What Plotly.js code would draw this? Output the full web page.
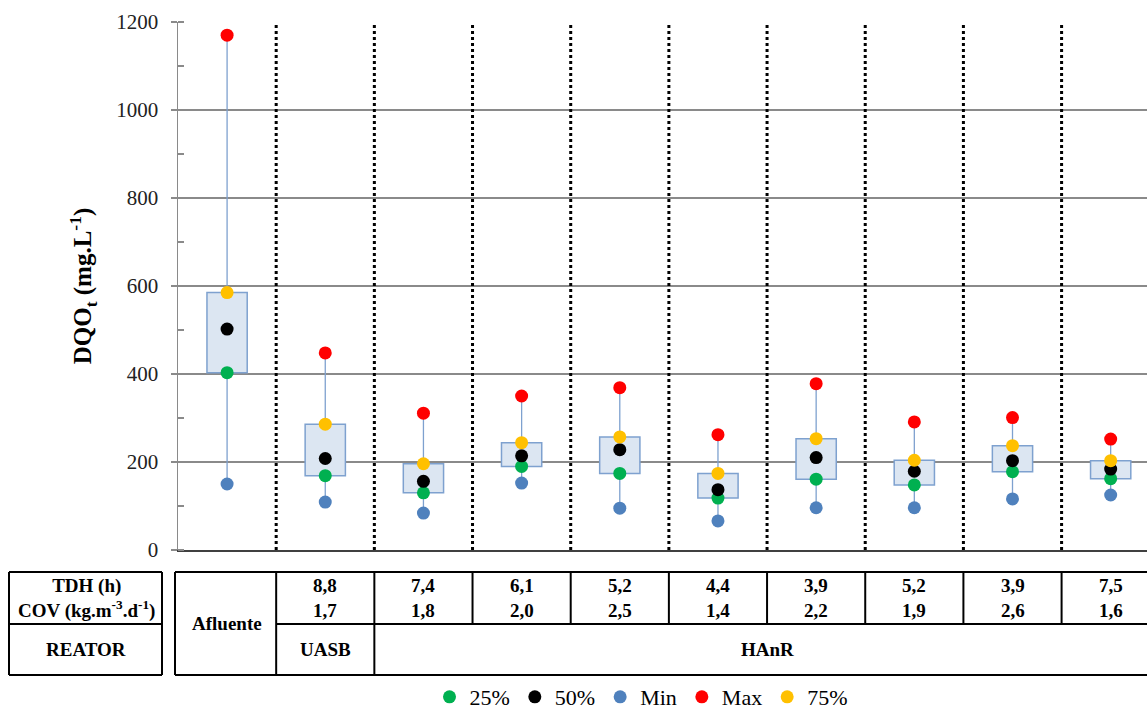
<!DOCTYPE html>
<html>
<head>
<meta charset="utf-8">
<script src="https://cdn.plot.ly/plotly-3.0.1.min.js"></script>
<style>
  html, body { margin: 0; padding: 0; background: #fff; overflow: hidden; }
  #chart { width: 1147px; height: 709px; }
</style>
</head>
<body>
<div id="chart"></div>
<script>
// Total COD (DQOt) per sampling condition: influent, UASB and HAnR runs
const samples = ['Afluente', 'UASB', 'HAnR', 'HAnR', 'HAnR', 'HAnR', 'HAnR', 'HAnR', 'HAnR', 'HAnR'];
const tdh = ['', '8,8', '7,4', '6,1', '5,2', '4,4', '3,9', '5,2', '3,9', '7,5'];
const cov = ['', '1,7', '1,8', '2,0', '2,5', '1,4', '2,2', '1,9', '2,6', '1,6'];

const p25  = [403, 169, 130, 190, 174, 118, 161, 148, 178, 162];
const p50  = [502, 208, 156, 214, 228, 137, 210, 179, 203, 184];
const vMin = [150, 109,  84, 152,  95,  66,  96,  96, 116, 125];
const vMax = [1170, 448, 311, 350, 369, 262, 378, 291, 301, 252];
const p75  = [585, 286, 196, 244, 257, 174, 253, 204, 237, 203];

const yTicks = [0, 200, 400, 600, 800, 1000, 1200];

const xs = samples.map((_, i) => i);
const serif = "'Liberation Serif', 'Times New Roman', Times, serif";

// plot area geometry (px) used to place the table under the axis
const W = 1147, H = 709;
const plotL = 178, plotT = 22, plotW = 969, plotH = 528;
const xMin = -0.5, xMax = 9.37;
const pxX = px => (px - plotL) / plotW;
const pxY = py => (plotT + plotH - py) / plotH;
const dX = x => (x - xMin) / (xMax - xMin);

// whiskers: from 75% up to max and from 25% down to min
const wx = [], wy = [];
xs.forEach(i => {
  wx.push(i, i, null, i, i, null);
  wy.push(p75[i], vMax[i], null, vMin[i], p25[i], null);
});

const traces = [
  {
    type: 'bar', x: xs, base: p25, y: p75.map((v, i) => v - p25[i]),
    width: 0.41, showlegend: false, hoverinfo: 'skip',
    marker: { color: '#dce6f2', line: { color: '#7ea1cf', width: 1.5 } }
  },
  {
    type: 'scatter', mode: 'lines', x: wx, y: wy, showlegend: false,
    hoverinfo: 'skip', line: { color: '#7ea1cf', width: 1.3 }
  },
  { type: 'scatter', mode: 'markers', name: '25%', x: xs, y: p25,
    marker: { color: '#00b050', size: 13 } },
  { type: 'scatter', mode: 'markers', name: '50%', x: xs, y: p50,
    marker: { color: '#000000', size: 13 } },
  { type: 'scatter', mode: 'markers', name: 'Min', x: xs, y: vMin,
    marker: { color: '#4f81bd', size: 13 } },
  { type: 'scatter', mode: 'markers', name: 'Max', x: xs, y: vMax,
    marker: { color: '#ff0000', size: 13 } },
  { type: 'scatter', mode: 'markers', name: '75%', x: xs, y: p75,
    marker: { color: '#ffc000', size: 13 } }
];

const shapes = [];
// dotted separators between sampling conditions
for (let i = 0; i < samples.length - 1; i++) {
  shapes.push({ type: 'line', xref: 'x', yref: 'y', x0: i + 0.5, x1: i + 0.5, y0: 0, y1: 1200,
    line: { color: '#000', width: 3, dash: 'dot' } });
}

// table under the chart
const rowTop = 572, rowMid = 624, rowBot = 675;
const tblLine = { color: '#000', width: 2 };
const hline = (x0, x1, py) => shapes.push({ type: 'line', xref: 'paper', yref: 'paper',
  x0: x0, x1: x1, y0: pxY(py), y1: pxY(py), line: tblLine });
const vline = (x, py0, py1) => shapes.push({ type: 'line', xref: 'paper', yref: 'paper',
  x0: x, x1: x, y0: pxY(py0), y1: pxY(py1), line: tblLine });

// header block on the left
const hL = pxX(9), hR = pxX(162);
hline(hL, hR, rowTop); hline(hL, hR, rowMid); hline(hL, hR, rowBot);
vline(hL, rowTop, rowBot); vline(hR, rowTop, rowBot);

// main block
const tL = pxX(175), tR = 1.05;
hline(tL, tR, rowTop); hline(tL, tR, rowBot);
hline(dX(0.5), tR, rowMid);
vline(tL, rowTop, rowBot);
vline(dX(0.5), rowTop, rowBot);
vline(dX(1.5), rowTop, rowBot);
for (let i = 2; i < samples.length - 1; i++) vline(dX(i + 0.5), rowTop, rowMid);

const cellFont = { family: serif, size: 19, color: '#000' };
const ann = [];
const rowY1 = pxY((rowTop + rowMid) / 2), rowY2 = pxY((rowMid + rowBot) / 2);
const midY = pxY((rowTop + rowBot) / 2);
const cell = (xref, x, y, text) => ann.push({ xref: xref, yref: 'paper', x: x, y: y,
  xanchor: 'center', yanchor: 'middle', showarrow: false, text: text, font: cellFont });

cell('paper', pxX(86), rowY1, '<b>TDH (h)<br>COV (kg.m<sup>-3</sup>.d<sup>-1</sup>)</b>');
cell('paper', pxX(86), rowY2, '<b>REATOR</b>');

xs.forEach(i => {
  if (tdh[i]) cell('x', i, rowY1, '<b>' + tdh[i] + '<br>' + cov[i] + '</b>');
});
// reactor row: influent spans both rows, HAnR spans its runs
cell('x', 0, midY, '<b>' + samples[0] + '</b>');
cell('x', 1, rowY2, '<b>' + samples[1] + '</b>');
cell('x', (1.5 + samples.length - 0.5) / 2, rowY2, '<b>' + samples[2] + '</b>');

const layout = {
  width: W, height: H,
  margin: { l: plotL, r: 0, t: plotT, b: H - plotT - plotH, pad: 0, autoexpand: false },
  paper_bgcolor: '#fff', plot_bgcolor: '#fff',
  font: { family: serif, color: '#000' },
  showlegend: true,
  legend: {
    orientation: 'h', xref: 'paper', yref: 'paper',
    x: pxX(641), xanchor: 'center', y: pxY(697), yanchor: 'middle',
    font: { family: serif, size: 22, color: '#000' }, itemwidth: 30,
    bgcolor: 'rgba(0,0,0,0)', traceorder: 'normal'
  },
  xaxis: {
    range: [xMin, xMax], showgrid: false, zeroline: false, showticklabels: false,
    ticks: '', showline: true, linecolor: '#404040', linewidth: 1.5, fixedrange: true
  },
  yaxis: {
    range: [0, 1200], tickvals: yTicks, ticktext: yTicks.map(String),
    showgrid: true, gridcolor: '#8a8a8a', gridwidth: 1.2, zeroline: false,
    showline: true, linecolor: '#8a8a8a', linewidth: 1.5,
    ticks: 'outside', ticklen: 6, tickcolor: '#8a8a8a', tickwidth: 1.2,
    ticklabelstandoff: 8,
    minor: { dtick: 100, ticks: 'inside', ticklen: 6, tickcolor: '#8a8a8a', tickwidth: 1.2, showgrid: false },
    tickfont: { family: serif, size: 21, color: '#222' },
    title: { text: '<b>DQO<sub>t</sub> (mg.L<sup>-1</sup>)</b>', standoff: 17,
      font: { family: serif, size: 25, color: '#000' } },
    fixedrange: true
  },
  bargap: 0,
  shapes: shapes,
  annotations: ann,
  hovermode: false
};

Plotly.newPlot('chart', traces, layout, { displayModeBar: false, staticPlot: true });
</script>
</body>
</html>
